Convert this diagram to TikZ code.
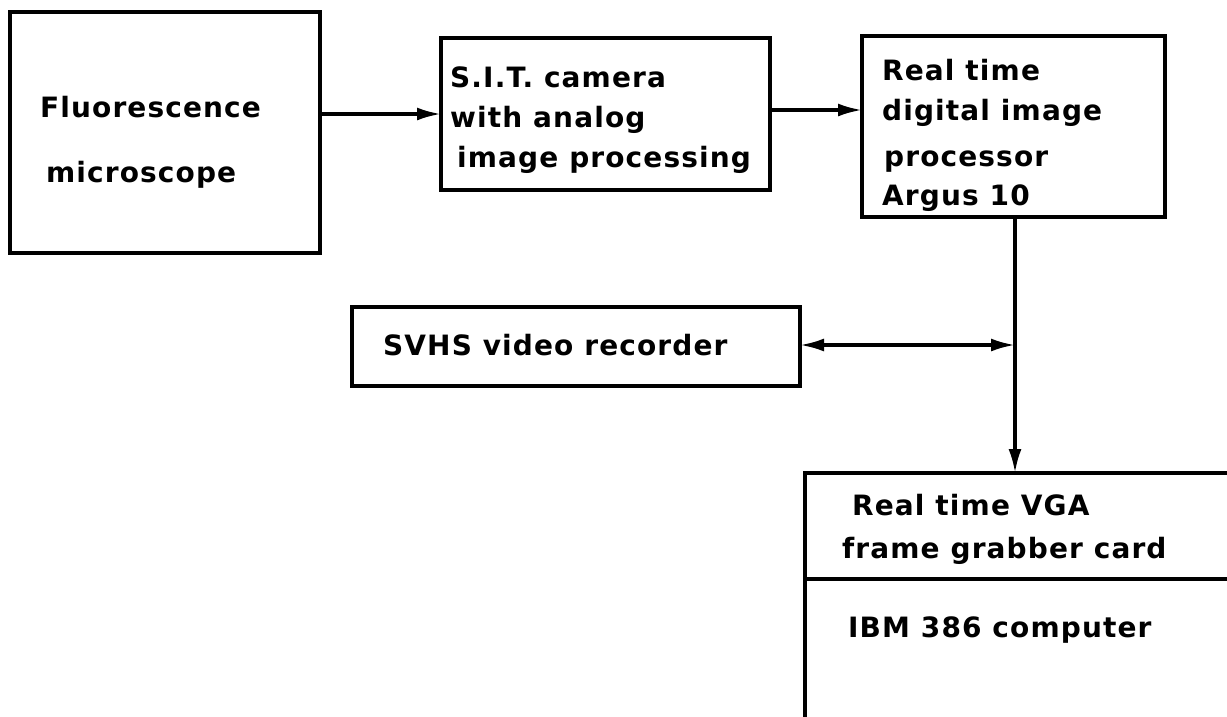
\documentclass[tikz,border=0pt]{standalone}
\usepackage{fontspec}
\usetikzlibrary{arrows.meta}
\newfontfamily\lab[LetterSpace=4]{DejaVu Sans Bold}
\tikzset{
  blk/.style={draw, line width=3.2pt, inner sep=0pt, outer sep=0pt},
  txt/.style={anchor=base west, inner sep=0pt, font=\lab\fontsize{28}{30}\selectfont},
  arr/.style={line width=3.2pt, -{Latex[length=24pt,width=13pt]}},
  darr/.style={line width=3.2pt, {Latex[length=24pt,width=13pt]}-{Latex[length=24pt,width=13pt]}}
}
\begin{document}
\begin{tikzpicture}[x=1pt,y=-1pt]
\clip (0,0) rectangle (1227,716);
\fill[white] (0,0) rectangle (1227,716);
% boxes
\node[blk, minimum width=310pt, minimum height=241pt] (fm) at (165,132.5) {};
\node[blk, minimum width=329pt, minimum height=152pt] (sit) at (605.5,114) {};
\node[blk, minimum width=303pt, minimum height=181pt] (ip) at (1013.5,126.5) {};
\node[blk, minimum width=448pt, minimum height=79pt] (svhs) at (576,346.5) {};
\node[blk, minimum width=445pt, minimum height=267pt] (fg) at (1027.5,606.5) {};
\draw[line width=3.2pt] (fg.west |- 0,579) -- (fg.east |- 0,579);
% texts
\node[txt] (t1) at (40,117) {Fluorescence};
\node[txt] (t2) at (46,182) {microscope};
\node[txt] (t3) at (450,87) {S.I.T. camera};
\node[txt] (t4) at (450,127) {with analog};
\node[txt] (t5) at (457,167) {image processing};
\node[txt] (t6) at (882,80) {Real time};
\node[txt] (t7) at (882,120) {digital image};
\node[txt] (t8) at (884,166) {processor};
\node[txt] (t9) at (882,205) {Argus 10};
\node[txt] (t10) at (383,355) {SVHS video recorder};
\node[txt] (t11) at (852,515) {Real time VGA};
\node[txt] (t12) at (842,558) {frame grabber card};
\node[txt] (t13) at (848,637) {IBM 386 computer};
% connectors
\coordinate (vx) at (1015,0);
\draw[arr] (fm.east |- sit.west) -- (sit.west);
\draw[arr] ([yshift=4pt]sit.east) -- ([yshift=4pt]sit.east -| ip.west);
\draw[arr] (ip.south -| vx) -- (fg.north -| vx);
\draw[darr] ([yshift=1.5pt]svhs.east) -- ([yshift=1.5pt]svhs.east -| vx);
\end{tikzpicture}
\end{document}
